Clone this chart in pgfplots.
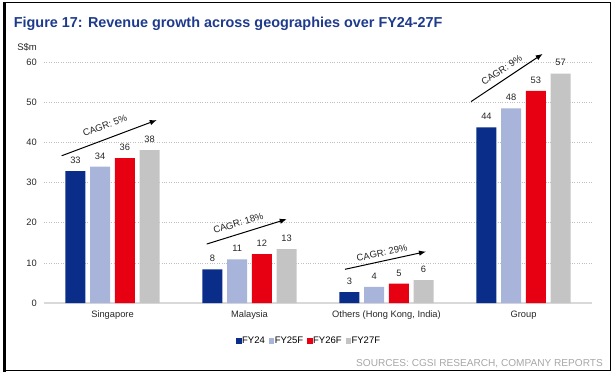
\documentclass[border=0pt]{standalone}
\usepackage{fontspec}
\setmainfont{Liberation Sans}
\usepackage{pgfplots}
\pgfplotsset{compat=1.18}
\usetikzlibrary{arrows.meta}
\definecolor{cA}{HTML}{0B2D8A}
\definecolor{cB}{HTML}{A8B4D9}
\definecolor{cC}{HTML}{E60012}
\definecolor{cD}{HTML}{C4C4C4}
\definecolor{titleblue}{HTML}{1E3A8C}
\definecolor{srcgray}{HTML}{A6A6A6}
\definecolor{gridgray}{HTML}{BFBFBF}
\definecolor{basegray}{HTML}{D9D9D9}
\begin{document}
\begin{tikzpicture}[x=1pt,y=1pt]
\useasboundingbox (0,0) rectangle (613,375);
\begin{axis}[
  at={(44pt,72pt)}, anchor=south west,
  scale only axis, width=548pt, height=240.7pt,
  xmin=-0.5, xmax=3.5, ymin=0, ymax=60,
  clip=false,
  ybar, bar width=20pt,
  axis x line*=bottom, axis y line*=left,
  y axis line style={draw=none},
  x axis line style={basegray, line width=1.6pt, -},
  xtick={0,1,2,3},
  xticklabels={Singapore, Malaysia, {Others (Hong Kong, India)}, Group},
  ytick={0,10,...,60},
  major tick length=0pt,
  tick style={draw=none},
  ymajorgrids,
  grid style={gridgray, dotted, line width=0.6pt},
  /pgf/number format/assume math mode=true,
  tick label style={font=\fontsize{9.3}{11}\selectfont, text=black!85},
  yticklabel style={inner sep=0pt, anchor=east, xshift=-7pt},
  xticklabel style={inner sep=0pt, anchor=north, yshift=-7.5pt},
  point meta=explicit symbolic,
  nodes near coords,
  every node near coord/.append style={font=\fontsize{9.3}{11}\selectfont, text=black!85, anchor=south, inner sep=0pt, yshift=7.3pt},
  legend columns=4,
  legend style={at={(0.4827,-0.158)}, anchor=center, draw=none, fill=none,
    font=\fontsize{9.5}{11}\selectfont,
    nodes={inner sep=0.6pt},
    /tikz/every even column/.append style={column sep=3.5pt}},
  legend image code/.code={\fill[#1,draw=none] (0pt,-2.6pt) rectangle (5.2pt,2.6pt);},
]
\addplot[fill=cA, draw=none, bar shift=-37.05pt] coordinates {(0,32.9) [33] (1,8.4) [8] (2,2.7) [3] (3,43.8) [44]};
\addlegendentry{FY24}
\addplot[fill=cB, draw=none, bar shift=-12.35pt] coordinates {(0,34.0) [34] (1,10.9) [11] (2,4.0) [4] (3,48.5) [48]};
\addlegendentry{FY25F}
\addplot[fill=cC, draw=none, bar shift=12.35pt] coordinates {(0,36.1) [36] (1,12.2) [12] (2,4.8) [5] (3,52.9) [53]};
\addlegendentry{FY26F}
\addplot[fill=cD, draw=none, bar shift=37.05pt] coordinates {(0,38.1) [38] (1,13.4) [13] (2,5.7) [6] (3,57.2) [57]};
\addlegendentry{FY27F}
% CAGR annotations
\draw[black, line width=1pt, -{Latex[length=7pt,width=5.5pt]}] (axis cs:-0.371,36.7) -- (axis cs:0.323,45.6);
\node[rotate=20.6, font=\fontsize{9.5}{11}\selectfont, text=black!85, inner sep=0pt] at (axis cs:-0.055,44.2) {CAGR: 5\%};
\draw[black, line width=1pt, -{Latex[length=7pt,width=5.5pt]}] (axis cs:0.688,14.7) -- (axis cs:1.272,20.9);
\node[rotate=17.2, font=\fontsize{9.5}{11}\selectfont, text=black!85, inner sep=0pt] at (axis cs:0.918,19.9) {CAGR: 18\%};
\draw[black, line width=1pt, -{Latex[length=7pt,width=5.5pt]}] (axis cs:1.697,8.4) -- (axis cs:2.288,12.8);
\node[rotate=12.3, font=\fontsize{9.5}{11}\selectfont, text=black!85, inner sep=0pt] at (axis cs:1.967,12.5) {CAGR: 29\%};
\draw[black, line width=1pt, -{Latex[length=7pt,width=5.5pt]}] (axis cs:2.617,50.2) -- (axis cs:3.140,62.1);
\node[rotate=33.6, font=\fontsize{9.5}{11}\selectfont, text=black!85, inner sep=0pt] at (axis cs:2.841,58.1) {CAGR: 9\%};
\end{axis}
% unit label
\node[anchor=east, inner sep=0pt, font=\fontsize{9.5}{11}\selectfont, text=black!85] at (37,328) {S\$m};
% title
\node[anchor=base west, inner sep=0pt, font=\fontsize{14.4}{17}\selectfont\bfseries, text=titleblue] at (13.7,347.6) {Figure 17: Revenue growth across geographies over FY24-27F};
% source
\node[anchor=base east, inner sep=0pt, font=\fontsize{10.1}{12}\selectfont, text=srcgray] at (603,8.4) {SOURCES: CGSI RESEARCH, COMPANY REPORTS};
% frame
\draw[black, line width=1pt] (4.5,372.5) -- (610,372.5) -- (610,4.5) -- (4.5,4.5);
\draw[black, line width=3pt] (4.5,3.5) -- (4.5,373);
\end{tikzpicture}
\end{document}
